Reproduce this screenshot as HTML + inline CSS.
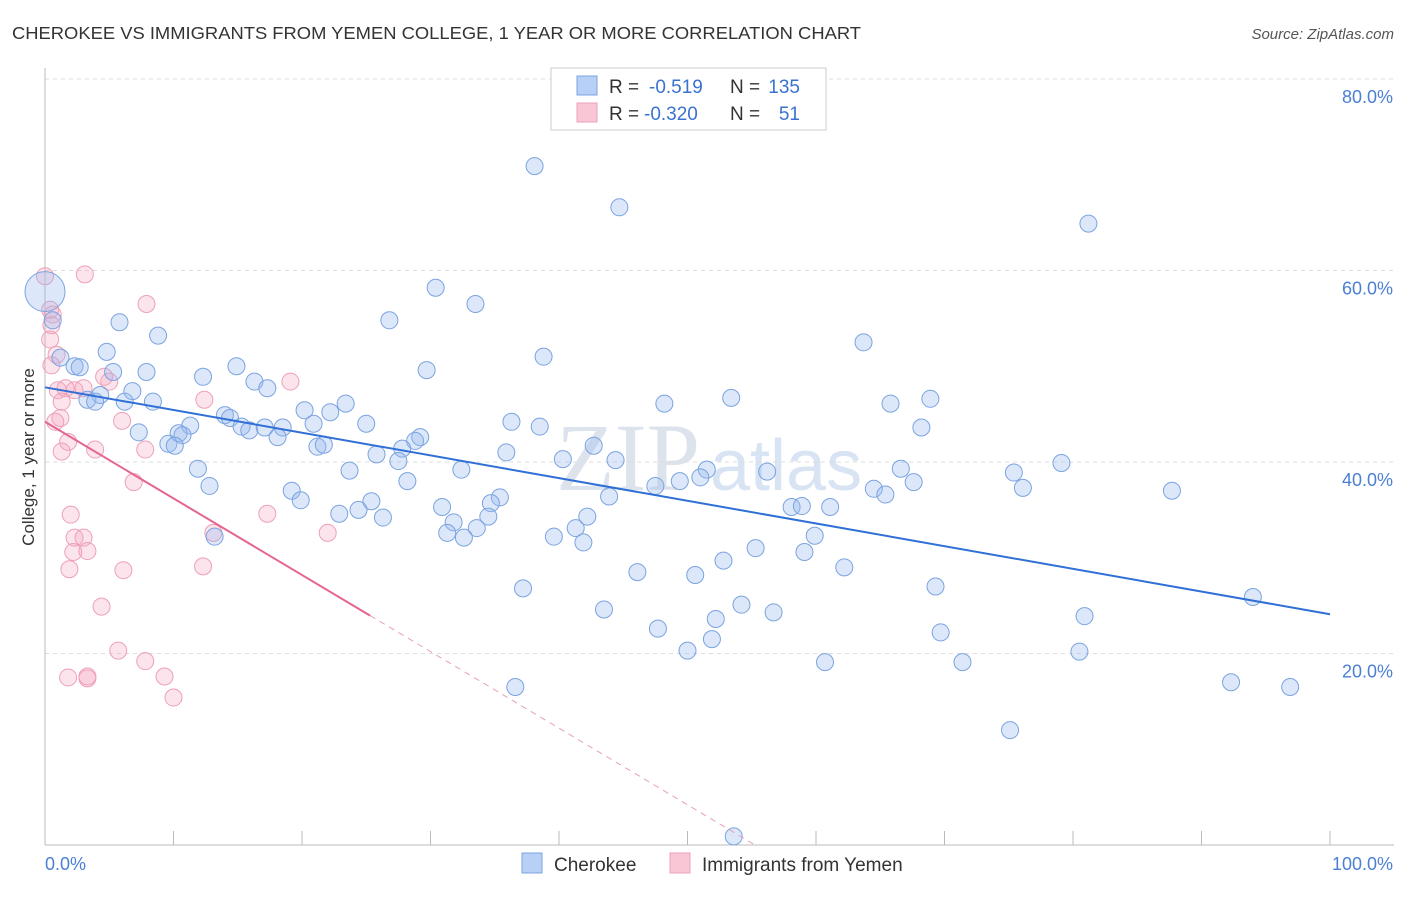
<!DOCTYPE html>
<html><head><meta charset="utf-8"><style>
body{margin:0;background:#fff;width:1406px;height:892px;overflow:hidden;font-family:"Liberation Sans",sans-serif}
</style></head><body>
<svg id="chart" width="1406" height="892" xmlns="http://www.w3.org/2000/svg">
<text x="12" y="39" font-size="17.5" fill="#333" textLength="849" lengthAdjust="spacingAndGlyphs">CHEROKEE VS IMMIGRANTS FROM YEMEN COLLEGE, 1 YEAR OR MORE CORRELATION CHART</text>
<text x="1394" y="39" font-size="15" fill="#555" font-style="italic" text-anchor="end">Source: ZipAtlas.com</text>
<text transform="translate(34,457) rotate(-90)" font-size="17" fill="#333" text-anchor="middle">College, 1 year or more</text>
<text x="700" y="490" font-size="96" fill="#dde3ec" text-anchor="end" font-family="Liberation Serif">ZIP</text>
<text x="710" y="490" font-size="72" fill="#d8e4f4">atlas</text>
<g id="grid"></g><g id="axes"></g><g id="marks"></g>
<g>
<rect x="551" y="68" width="275" height="62" fill="#fff" stroke="#ccc"/>
<rect x="577" y="76" width="20" height="19" fill="#b8d0f5" stroke="#7ba3e0"/>
<rect x="577" y="103" width="20" height="19" fill="#f9c6d6" stroke="#eea0b8"/>
<text x="609" y="93" font-size="19" fill="#333">R =</text>
<text x="649" y="93" font-size="19" fill="#3a72d0">-0.519</text>
<text x="730" y="93" font-size="19" fill="#333">N =</text>
<text x="800" y="93" font-size="19" fill="#3a72d0" text-anchor="end">135</text>
<text x="609" y="120" font-size="19" fill="#333">R =</text>
<text x="644" y="120" font-size="19" fill="#3a72d0">-0.320</text>
<text x="730" y="120" font-size="19" fill="#333">N =</text>
<text x="800" y="120" font-size="19" fill="#3a72d0" text-anchor="end">51</text>
</g>
<g>
<rect x="522" y="853" width="20" height="20" fill="#b8d0f5" stroke="#7ba3e0"/>
<text x="554" y="871" font-size="19" fill="#333">Cherokee</text>
<rect x="670" y="853" width="20" height="20" fill="#f9c6d6" stroke="#eea0b8"/>
<text x="702" y="871" font-size="19" fill="#333">Immigrants from Yemen</text>
</g>
</svg>
<script>
const blueX=[38.1,44.7,81.2,30.4,33.5,0.6,26.8,5.8,8.8,63.7,4.8,38.8,1.2,2.3,2.7,14.9,29.7,5.3,7.9,12.3,16.3,17.3,6.8,4.3,3.3,3.9,6.2,8.4,53.4,68.9,48.2,65.8,23.4,20.2,22.2,14.0,14.4,25.0,36.3,11.3,15.3,15.9,17.1,18.5,20.9,38.5,68.2,7.3,10.4,10.7,18.1,29.2,28.8,9.6,10.1,21.2,21.7,27.8,42.7,35.9,25.8,27.5,40.3,44.4,79.1,11.9,23.7,32.4,51.5,56.2,66.6,75.4,51.0,49.4,67.6,28.2,12.8,47.5,64.5,76.1,87.7,19.2,65.4,19.9,43.9,25.4,35.4,34.7,30.9,58.1,58.9,61.1,24.4,22.9,26.3,31.8,34.5,42.2,33.6,41.3,31.3,32.6,13.2,39.6,41.9,59.9,55.3,59.1,52.8,62.2,46.1,50.6,37.2,69.3,94.0,54.2,43.5,56.7,52.2,80.9,47.7,69.7,51.9,50.0,80.5,60.7,71.4,92.3,96.9,36.6,75.1,53.6];
const blueY=[70.9,66.6,64.9,58.2,56.5,54.8,54.8,54.6,53.2,52.5,51.5,51.0,50.9,50.0,49.9,50.0,49.6,49.4,49.4,48.9,48.4,47.7,47.4,47.0,46.5,46.3,46.3,46.3,46.7,46.6,46.1,46.1,46.1,45.4,45.2,44.9,44.6,44.0,44.2,43.8,43.7,43.3,43.6,43.6,44.0,43.7,43.6,43.1,43.0,42.8,42.6,42.6,42.2,41.9,41.7,41.6,41.8,41.4,41.7,41.0,40.8,40.1,40.3,40.2,39.9,39.3,39.1,39.2,39.2,39.0,39.3,38.9,38.4,38.0,37.9,38.0,37.5,37.5,37.2,37.3,37.0,37.0,36.6,36.0,36.4,35.9,36.3,35.7,35.3,35.3,35.4,35.3,35.0,34.6,34.2,33.7,34.3,34.3,33.1,33.1,32.6,32.1,32.2,32.2,31.6,32.3,31.0,30.6,29.7,29.0,28.5,28.2,26.8,27.0,25.9,25.1,24.6,24.3,23.6,23.9,22.6,22.2,21.5,20.3,20.2,19.1,19.1,17.0,16.5,16.5,12.0,0.9];
const pinkX=[0,3.1,7.9,0.4,0.6,0.5,0.4,0.9,0.5,4.6,5.0,19.1,1.0,1.6,2.3,3.0,1.3,12.4,1.2,0.8,6.0,1.8,1.3,3.9,7.8,6.9,2.0,13.1,22.0,17.3,2.3,3.0,2.2,3.3,1.9,6.1,12.3,4.4,5.7,7.8,9.3,1.8,3.3,3.3,10.0];
const pinkY=[59.4,59.6,56.5,55.9,55.4,54.3,52.8,51.2,50.1,48.9,48.4,48.4,47.5,47.7,47.5,47.7,46.3,46.5,44.6,44.2,44.3,42.1,41.1,41.3,41.3,37.9,34.5,32.6,32.6,34.6,32.1,32.1,30.6,30.7,28.8,28.7,29.1,24.9,20.3,19.2,17.6,17.5,17.4,17.6,15.4];
const blueTrend=[47.8,24.1];
const pinkTrend=[44.2,-0.80];
const yTicks=[20,40,60,80];
const xTickLabels=["0.0%","100.0%"];
const NS="http://www.w3.org/2000/svg";
const sx=v=>45+v*12.85, sy=v=>845-v*9.575;
function el(t,a,p){const e=document.createElementNS(NS,t);for(const k in a)e.setAttribute(k,a[k]);p.appendChild(e);return e;}
const grid=document.getElementById('grid'),axes=document.getElementById('axes'),marks=document.getElementById('marks');
yTicks.forEach(t=>{
  const l=el('line',{x1:45,x2:1394,y1:sy(t),y2:sy(t),stroke:'#ddd','stroke-dasharray':'4,4'},grid);
  
  
  const tx=el('text',{x:1393,y:sy(t)+24,'font-size':18,fill:'#4a7fd4','text-anchor':'end'},axes);
  tx.textContent=t.toFixed(1)+'%';
  
  
});
el('line',{x1:45,x2:45,y1:68,y2:845,stroke:'#bbb'},axes);
el('line',{x1:45,x2:1394,y1:845,y2:845,stroke:'#bbb'},axes);
for(let i=0;i<=10;i++){el('line',{x1:sx(i*10),x2:sx(i*10),y1:831,y2:845,stroke:'#bbb'},axes);}
const xl0=el('text',{x:45,y:870,'font-size':18,fill:'#4a7fd4'},axes);xl0.textContent=xTickLabels[0];


const xl1=el('text',{x:1393,y:870,'font-size':18,fill:'#4a7fd4','text-anchor':'end'},axes);xl1.textContent=xTickLabels[1];


pinkX.forEach((x,i)=>{
  const c=el('circle',{cx:sx(x),cy:sy(pinkY[i]),r:8.5,fill:'rgba(245,165,192,0.3)',stroke:'#eea0b8','stroke-width':1},marks);
  
  
});
blueX.forEach((x,i)=>{
  const c=el('circle',{cx:sx(x),cy:sy(blueY[i]),r:8.5,fill:'rgba(150,185,240,0.33)',stroke:'#7ba3e0','stroke-width':1},marks);
  
  
});
const big=el('circle',{cx:sx(0),cy:sy(57.8),r:20,fill:'rgba(150,185,240,0.33)',stroke:'#7ba3e0'},marks);


const bt=el('line',{x1:sx(0),y1:sy(blueTrend[0]),x2:sx(100),y2:sy(blueTrend[1]),stroke:'#2f6fd6','stroke-width':2},marks);


const pEnd=-pinkTrend[0]/pinkTrend[1];
const pt=el('line',{x1:sx(0),y1:sy(pinkTrend[0]),x2:sx(25.3),y2:sy(pinkTrend[0]+pinkTrend[1]*25.3),stroke:'#e56592','stroke-width':2},marks);


const pd=el('line',{x1:sx(25.3),y1:sy(pinkTrend[0]+pinkTrend[1]*25.3),x2:sx(pEnd),y2:sy(0),stroke:'#e8a0b8','stroke-width':1,'stroke-dasharray':'6,5'},marks);


</script>
</body></html>
